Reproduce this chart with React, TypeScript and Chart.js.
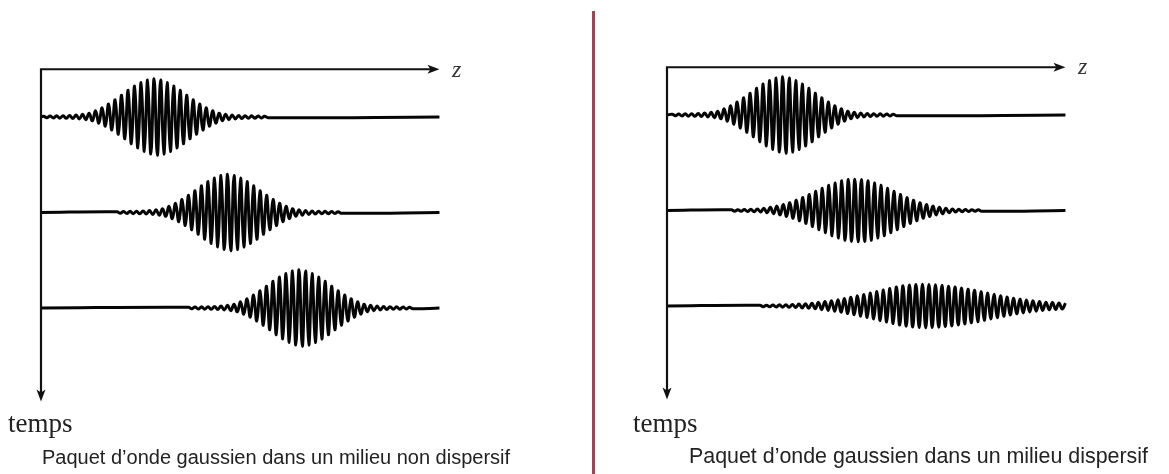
import React, { useEffect, useRef } from "react";
import { Chart, registerables } from "chart.js";

Chart.register(...registerables);

// z is measured in wave periods from the time axis, t in row spacings (rows at t = 1, 2, 3)
const rowTimes = [1, 2, 3];

// Non-dispersive medium: same envelope for the three instants (peak amplitude per cycle)
const leftCenters = [17.4, 28.7, 39.7];
const leftEnvelope = [
  0.02, 0.025, 0.03, 0.035, 0.04, 0.05, 0.07, 0.1, 0.16, 0.24, 0.34, 0.45, 0.57, 0.7, 0.81, 0.9, 0.97,
  1.0,
  0.97, 0.9, 0.81, 0.7, 0.57, 0.45, 0.34, 0.24, 0.16, 0.1, 0.07, 0.05, 0.04, 0.035, 0.03, 0.025, 0.02,
];

// Dispersive medium: envelope spreads and flattens with time
const rightCenters = [17.8, 28.9, 39.3];
const rightEnvelope1 = [
  0.02, 0.025, 0.03, 0.035, 0.04, 0.05, 0.07, 0.1, 0.16, 0.24, 0.34, 0.45, 0.57, 0.7, 0.81, 0.9, 0.97,
  1.0,
  0.97, 0.9, 0.81, 0.7, 0.57, 0.45, 0.34, 0.24, 0.16, 0.1, 0.07, 0.05, 0.04, 0.035, 0.03, 0.025, 0.02,
];
const rightEnvelope2 = [
  0.02, 0.02, 0.025, 0.03, 0.04, 0.06, 0.085, 0.115, 0.155, 0.205, 0.27, 0.34, 0.42, 0.5, 0.58, 0.66, 0.72, 0.78, 0.81,
  0.82,
  0.81, 0.78, 0.72, 0.66, 0.58, 0.5, 0.42, 0.34, 0.27, 0.205, 0.155, 0.115, 0.085, 0.06, 0.04, 0.03, 0.025, 0.02, 0.02,
];
const rightEnvelope3 = [
  0.02, 0.02, 0.025, 0.03, 0.035, 0.04, 0.05, 0.06, 0.075, 0.095, 0.115, 0.14, 0.165, 0.195, 0.23, 0.265, 0.3,
  0.34, 0.38, 0.42, 0.46, 0.5, 0.53, 0.55, 0.565,
  0.57,
  0.565, 0.555, 0.54, 0.52, 0.495, 0.47, 0.44, 0.41, 0.375, 0.34, 0.305, 0.27, 0.235, 0.205, 0.18, 0.155, 0.135,
  0.115, 0.1, 0.09, 0.08, 0.075,
];

const Z_END = 61.3; // end of the z axis / baselines
const AXIS_T = 0.5; // the z axis sits above the first row
const ARROW_T = 3.98; // tip of the "temps" arrow
const AMP = 0.4; // envelope value 1 in row-spacing units

type Pt = { x: number; y: number };

function buildRow(center: number, env: number[], t: number): Pt[] {
  const peakIdx = env.indexOf(Math.max(...env));
  const pts: Pt[] = [];
  env.forEach((a, i) => {
    const z = center + (i - peakIdx);
    if (z > 0.05 && z <= Z_END) pts.push({ x: z, y: t - AMP * a });
    if (z + 0.5 > 0.05 && z + 0.5 <= Z_END) pts.push({ x: z + 0.5, y: t + AMP * a });
  });
  const out: Pt[] = [];
  if (!pts.length || pts[0].x > 0.05) out.push({ x: 0, y: t });
  out.push(...pts);
  if (pts[pts.length - 1].x < Z_END - 0.6) out.push({ x: Z_END, y: t });
  return out;
}

const axesPlugin = {
  id: "waveAxes",
  afterDatasetsDraw(chart: any, _args: any, opts: any) {
    const { ctx, scales } = chart;
    const x = scales.x;
    const y = scales.y;
    const x0 = x.getPixelForValue(0);
    const xe = x.getPixelForValue(opts.zEnd);
    const yt = y.getPixelForValue(opts.axisT);
    const yb = y.getPixelForValue(opts.arrowT);
    ctx.save();
    ctx.strokeStyle = "#111";
    ctx.fillStyle = "#111";
    ctx.lineWidth = 2.2;
    ctx.lineJoin = "miter";
    ctx.beginPath();
    ctx.moveTo(x0, yb - 8);
    ctx.lineTo(x0, yt);
    ctx.lineTo(xe - 8, yt);
    ctx.stroke();
    ctx.beginPath();
    ctx.moveTo(xe, yt);
    ctx.lineTo(xe - 12, yt - 4.5);
    ctx.lineTo(xe - 9, yt);
    ctx.lineTo(xe - 12, yt + 4.5);
    ctx.closePath();
    ctx.fill();
    ctx.beginPath();
    ctx.moveTo(x0, yb);
    ctx.lineTo(x0 - 4.5, yb - 12);
    ctx.lineTo(x0, yb - 9);
    ctx.lineTo(x0 + 4.5, yb - 12);
    ctx.closePath();
    ctx.fill();
    ctx.restore();
  },
};

type PanelProps = {
  centers: number[];
  envelopes: number[][];
  xMin: number;
  xMax: number;
  yMin: number;
  yMax: number;
  width: number;
  height: number;
};

function Panel(props: PanelProps) {
  const ref = useRef<HTMLCanvasElement | null>(null);
  useEffect(() => {
    if (!ref.current) return;
    const datasets = rowTimes.map((t, i) => ({
      data: buildRow(props.centers[i], props.envelopes[i], t),
      borderColor: "#050505",
      borderWidth: 3,
      pointRadius: 0,
      tension: 0.4,
      fill: false,
    }));
    const chart = new Chart(ref.current, {
      type: "line",
      data: { datasets },
      options: {
        animation: false,
        responsive: false,
        maintainAspectRatio: false,
        layout: { padding: 0 },
        events: [],
        parsing: false as any,
        scales: {
          x: { type: "linear", min: props.xMin, max: props.xMax, display: false },
          y: { type: "linear", min: props.yMin, max: props.yMax, reverse: true, display: false },
        },
        plugins: {
          legend: { display: false },
          tooltip: { enabled: false },
          title: { display: false },
          waveAxes: { zEnd: Z_END, axisT: AXIS_T, arrowT: ARROW_T },
        } as any,
      },
      plugins: [axesPlugin as any],
    });
    return () => chart.destroy();
  }, []);
  return <canvas ref={ref} width={props.width} height={props.height} style={{ display: "block" }} />;
}

const serif = '"Liberation Serif", "Times New Roman", serif';
const sans = '"Liberation Sans", Arial, sans-serif';

export default function App() {
  const abs = (l: number, t: number): React.CSSProperties => ({ position: "absolute", left: l, top: t, whiteSpace: "nowrap", lineHeight: 1 });
  return (
    <div style={{ position: "absolute", left: 0, top: 0, width: 1169, height: 474, background: "#fff", overflow: "hidden" }}>
      <div style={{ position: "absolute", left: 0, top: 0 }}>
        <Panel
          centers={leftCenters}
          envelopes={[leftEnvelope, leftEnvelope, leftEnvelope]}
          xMin={-41 / 6.5}
          xMax={(590 - 41) / 6.5}
          yMin={-0.225}
          yMax={4.738}
          width={590}
          height={474}
        />
      </div>
      <div style={{ position: "absolute", left: 596, top: 0 }}>
        <Panel
          centers={rightCenters}
          envelopes={[rightEnvelope1, rightEnvelope2, rightEnvelope3]}
          xMin={-71 / 6.5}
          xMax={(573 - 71) / 6.5}
          yMin={-0.204}
          yMax={4.759}
          width={573}
          height={474}
        />
      </div>
      <div style={{ position: "absolute", left: 592, top: 11, width: 3, height: 463, background: "#9b4750" }} />
      <div style={{ ...abs(452, 57), fontFamily: serif, fontStyle: "italic", fontSize: 24, color: "#333" }}>z</div>
      <div style={{ ...abs(1078, 54), fontFamily: serif, fontStyle: "italic", fontSize: 24, color: "#333" }}>z</div>
      <div style={{ ...abs(8, 410), fontFamily: serif, fontSize: 27, color: "#222" }}>temps</div>
      <div style={{ ...abs(633, 410), fontFamily: serif, fontSize: 27, color: "#222" }}>temps</div>
      <div style={{ ...abs(42, 447), fontFamily: sans, fontSize: 20, color: "#222" }}>Paquet d’onde gaussien dans un milieu non dispersif</div>
      <div style={{ ...abs(689, 446), fontFamily: sans, fontSize: 21.4, color: "#222" }}>Paquet d’onde gaussien dans un milieu dispersif</div>
    </div>
  );
}
